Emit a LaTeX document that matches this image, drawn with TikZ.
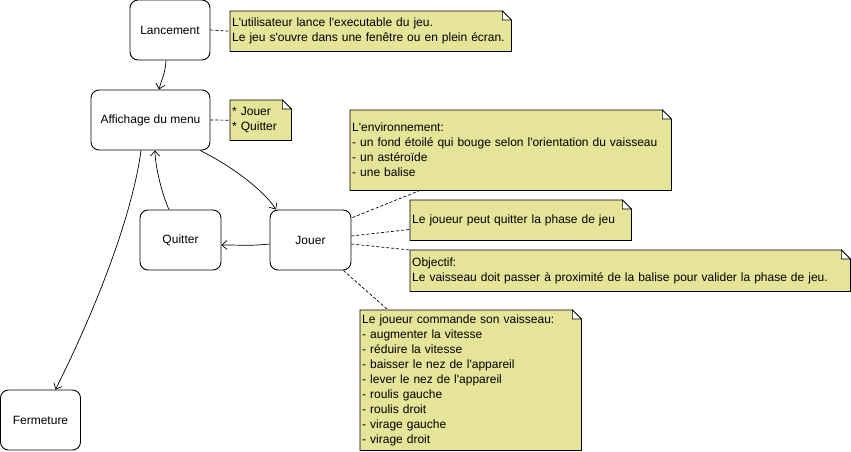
\documentclass[tikz,border=0pt]{standalone}
\usepackage{fontspec}
\newfontfamily\uml{Liberation Sans}
\usetikzlibrary{arrows.meta,calc,backgrounds}
\definecolor{notefill}{RGB}{230,228,152}
\begin{document}
\begin{tikzpicture}[x=1pt,y=-1pt,
  every node/.style={font={\fontsize{12}{15}\uml}},
  state/.style={draw,rounded corners=8pt,line width=0.9pt,inner sep=0pt,fill=white},
  note/.style={anchor=north west,inner xsep=2pt,inner ysep=0pt,align=left},
  notebox/.style={line width=0.8pt,fill=notefill},
  arr/.style={-{Straight Barb[length=5pt,width=9pt]},line width=0.7pt},
  link/.style={dash pattern=on 3pt off 2pt,line width=0.7pt}]
\useasboundingbox (0,0) rectangle (851,451);

% states
\node[state,minimum width=80pt,minimum height=60pt] (lanc) at (170,30) {Lancement};
\node[state,minimum width=119pt,minimum height=60pt] (menu) at (150.5,120) {Affichage du menu};
\node[state,minimum width=81pt,minimum height=60pt] (quit) at (180.5,240) {Quitter};
\node[state,minimum width=81pt,minimum height=60pt] (jouer) at (310.5,240) {Jouer};
\node[state,minimum width=80pt,minimum height=60pt] (ferm) at (40.5,420) {Fermeture};

% notes
\node[note,text width=277pt,minimum height=40pt] (n1) at (230,11)
  {L'utilisateur lance l'executable du jeu.\\Le jeu s'ouvre dans une fenêtre ou en plein écran.};
\node[note,text width=57pt,minimum height=40pt] (n2) at (230,100)
  {* Jouer\\{}* Quitter};
\node[note,text width=317pt,minimum height=80pt] (env) at (350,110)
  {L'environnement:\\- un fond étoilé qui bouge selon l'orientation du vaisseau\\- un astéroïde\\- une balise};
\node[note,text width=217pt,minimum height=40pt] (qn) at (410,200)
  {Le joueur peut quitter la phase de jeu};
\node[note,text width=436pt,minimum height=41pt] (obj) at (410,250)
  {Objectif:\\Le vaisseau doit passer à proximité de la balise pour valider la phase de jeu.};
\node[note,text width=217pt,minimum height=140pt] (ctrl) at (360,310)
  {Le joueur commande son vaisseau:\\- augmenter la vitesse\\- réduire la vitesse\\- baisser le nez de l'appareil\\- lever le nez de l'appareil\\- roulis gauche\\- roulis droit\\- virage gauche\\- virage droit};

\begin{scope}[on background layer]
\foreach \n in {n1,n2,env,qn,obj,ctrl} {
  \draw[notebox] (\n.north west) -- ($(\n.north east)+(-9,0)$) -- ($(\n.north east)+(0,9)$)
     -- (\n.south east) -- (\n.south west) -- cycle;
  \draw[line width=0.6pt,fill=white] ($(\n.north east)+(-9,0)$) -- ($(\n.north east)+(-9,9)$)
     -- ($(\n.north east)+(0,9)$) -- cycle;
}
\end{scope}

% transitions
\draw[arr] ($(lanc.south)+(-4,0)$) .. controls +(-1,15) and +(3,-12) .. ($(menu.north)+(8.5,0)$);
\draw[arr] ($(menu.south)+(49.5,0)$) .. controls +(25,12) and +(-14,-22) .. ($(jouer.north)+(-34.5,0)$);
\draw[arr] ($(jouer.west)+(0,4)$) .. controls +(-20,2) and +(25,0) .. ($(quit.east)+(0,5)$);
\draw[arr] ($(quit.north)+(-11.5,0)$) .. controls +(-7,-15) and +(0,15) .. ($(menu.south)+(4.5,0)$);
\draw[arr] ($(menu.south)+(-9.5,0)$) .. controls +(-8,60) and +(45,-90) .. ($(ferm.north)+(15,0)$);

% note links
\draw[link] (lanc.east) -- (n1.west);
\draw[link] (menu.east) -- (n2.west);
\draw[link] ($(jouer.north east)+(1,8)$) -- ($(env.south west)+(70,0)$);
\draw[link] ($(jouer.east)+(0,-4)$) -- ($(qn.south west)+(0,-11)$);
\draw[link] ($(jouer.east)+(0,4)$) -- (obj.north west);
\draw[link] ($(jouer.south east)+(-8,0)$) -- ($(ctrl.north west)+(28,0)$);
\end{tikzpicture}
\end{document}
